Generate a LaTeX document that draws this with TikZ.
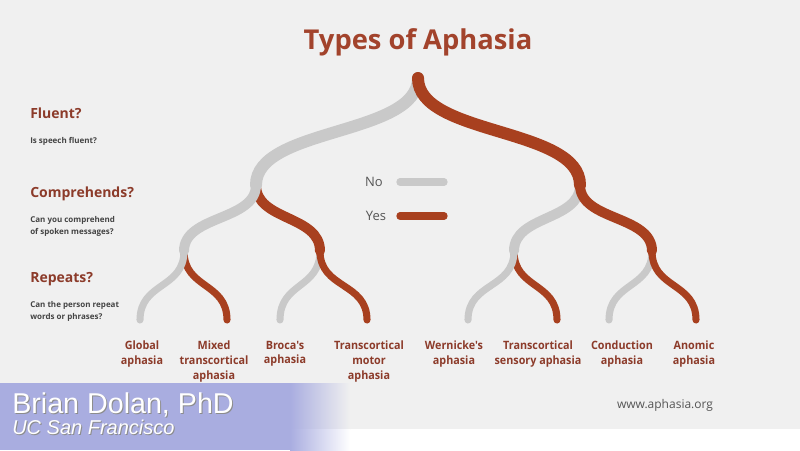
\documentclass[tikz,border=0pt]{standalone}
\usepackage{fontspec}
\setmainfont{Open Sans}
\newfontfamily\leaffont[FakeStretch=0.94]{Open Sans}
\newfontfamily\bannerfont{Liberation Sans}
\definecolor{bg}{HTML}{F0F0F0}
\definecolor{nogray}{HTML}{C9C9C9}
\definecolor{yesred}{HTML}{A8401F}
\definecolor{labelred}{HTML}{8C3B2A}
\definecolor{titlered}{HTML}{A2432C}
\definecolor{qgray}{HTML}{444444}
\definecolor{legendgray}{HTML}{555555}
\definecolor{banner}{HTML}{A9ADE0}

\begin{document}
\begin{tikzpicture}[x=0.75pt,y=-0.75pt,
  no/.style={draw=nogray,line cap=round},
  yes/.style={draw=yesred,line cap=round},
  lvlone/.style={line width=9pt},
  lvltwo/.style={line width=7.5pt},
  lvlthree/.style={line width=5.3pt},
  heading/.style={font=\bfseries\fontsize{10.5}{12}\selectfont,text=labelred,anchor=west,inner sep=0},
  question/.style={font=\bfseries\fontsize{6}{9}\selectfont,text=qgray,anchor=west,align=left,inner sep=0},
  leaf/.style={font=\leaffont\bfseries\fontsize{8.6}{10.9}\selectfont,text=labelred,align=center,anchor=north,inner sep=0}]
\useasboundingbox (0,0) rectangle (800,450);
\fill[bg] (0,0) rectangle (800,429);
\fill[white] (0,429) rectangle (800,450);

\node[font=\bfseries\fontsize{20.5}{22}\selectfont,text=titlered] (title) at (418,42) {Types of Aphasia};

% left questions
\node[heading] (fluent) at (30,113) {Fluent?};
\node[question] (fluentq) at (30,141) {Is speech fluent?};
\node[heading] (compr) at (30,194) {Comprehends?};
\node[question] (comprq) at (30,226) {Can you comprehend\\of spoken messages?};
\node[heading] (repeats) at (30,279) {Repeats?};
\node[question] (repeatsq) at (30,311) {Can the person repeat\\words or phrases?};

% tree points
\coordinate (root) at (418,78);
\coordinate (n) at (256,185);
\coordinate (y) at (580,185);
\coordinate (nn) at (184,251);
\coordinate (ny) at (320,251);
\coordinate (yn) at (514,251);
\coordinate (yy) at (652,251);
\coordinate (nnn) at (140,320);
\coordinate (nny) at (227,320);
\coordinate (nyn) at (280,320);
\coordinate (nyy) at (367,320);
\coordinate (ynn) at (468,320);
\coordinate (yny) at (557,320);
\coordinate (yyn) at (609,320);
\coordinate (yyy) at (696,320);

% repeats (drawn first, so the branch above covers the fork)
\draw[yes,lvlthree] (nn) .. controls +(0,38) and +(0,-38) .. (nny);
\draw[no,lvlthree] (nn) .. controls +(0,38) and +(0,-38) .. (nnn);
\draw[no,lvlthree] (ny) .. controls +(0,38) and +(0,-38) .. (nyn);
\draw[yes,lvlthree] (ny) .. controls +(0,38) and +(0,-38) .. (nyy);
\draw[yes,lvlthree] (yn) .. controls +(0,38) and +(0,-38) .. (yny);
\draw[no,lvlthree] (yn) .. controls +(0,38) and +(0,-38) .. (ynn);
\draw[no,lvlthree] (yy) .. controls +(0,38) and +(0,-38) .. (yyn);
\draw[yes,lvlthree] (yy) .. controls +(0,38) and +(0,-38) .. (yyy);
% comprehends
\draw[yes,lvltwo] (n) .. controls +(0,36) and +(0,-36) .. (ny);
\draw[no,lvltwo] (n) .. controls +(0,36) and +(0,-36) .. (nn);
\draw[no,lvltwo] (y) .. controls +(0,36) and +(0,-36) .. (yn);
\draw[yes,lvltwo] (y) .. controls +(0,36) and +(0,-36) .. (yy);
% fluent
\draw[no,lvlone] (root) .. controls +(0,58) and +(0,-58) .. (n);
\draw[yes,lvlone] (root) .. controls +(0,58) and +(0,-58) .. (y);

% legend
\node[font=\fontsize{9.75}{11}\selectfont,text=legendgray] (nolabel) at (374,182) {No};
\node[font=\fontsize{9.75}{11}\selectfont,text=legendgray] (yeslabel) at (376,216) {Yes};
\coordinate (nobar) at (400,182);
\coordinate (yesbar) at (400,216);
\draw[no,line width=5.5pt] (nobar) -- ++(44,0);
\draw[yes,line width=5.5pt] (yesbar) -- ++(44,0);

% aphasia types
\node[leaf] (global) at (142,341) {Global\\aphasia};
\node[leaf] (mixed) at (214,341) {Mixed\\transcortical\\aphasia};
\node[leaf] (broca) at (285,341) {Broca's\\aphasia};
\node[leaf] (tmotor) at (369,341) {Transcortical\\motor\\aphasia};
\node[leaf] (wernicke) at (454,341) {Wernicke's\\aphasia};
\node[leaf] (tsensory) at (538,341) {Transcortical\\sensory aphasia};
\node[leaf] (conduction) at (622,341) {Conduction\\aphasia};
\node[leaf] (anomic) at (694,341) {Anomic\\aphasia};

\node[font=\fontsize{9}{10}\selectfont,text=legendgray] (site) at (665,405) {www.aphasia.org};

% speaker banner
\fill[banner] (0,383) rectangle (290,450);
\shade[left color=banner,right color=bg] (290,383) rectangle (350,429);
\shade[left color=banner,right color=white] (290,429) rectangle (350,450);
\node[anchor=base west,inner sep=0,font=\bannerfont\fontsize{21.5}{22}\selectfont,text=black!45] (speakershadow) at (13,414) {Brian Dolan, PhD};
\node[anchor=base west,inner sep=0,font=\bannerfont\fontsize{21.5}{22}\selectfont,text=white] (speaker) at (12,413) {Brian Dolan, PhD};
\node[anchor=base west,inner sep=0,font=\bannerfont\itshape\fontsize{15}{16}\selectfont,text=black!45] (schoolshadow) at (13,435) {UC San Francisco};
\node[anchor=base west,inner sep=0,font=\bannerfont\itshape\fontsize{15}{16}\selectfont,text=white] (school) at (12,434) {UC San Francisco};
\end{tikzpicture}
\end{document}
